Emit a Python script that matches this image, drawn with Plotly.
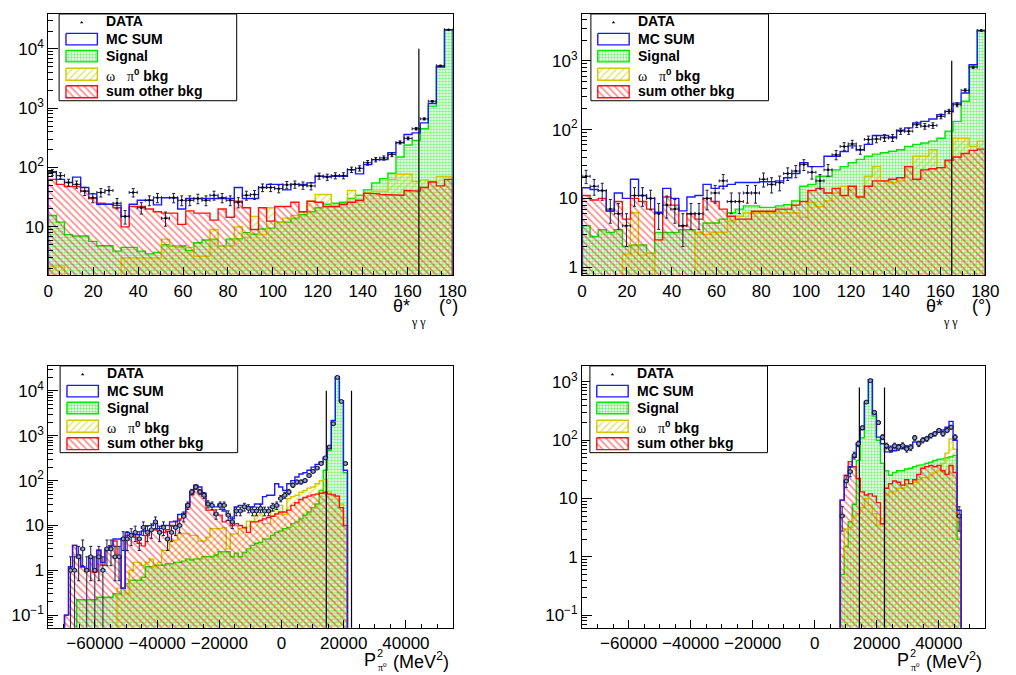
import math
import plotly.graph_objects as go

W, H = 1016, 675          # browser window
OFF = 8                   # default page body margin
FW, FH = W - OFF, H - OFF  # figure size

# ---------------- binning / cuts ----------------
THETA_MIN, THETA_MAX, THETA_NBINS = 0.0, 180.0, 50
P2_MIN, P2_MAX, P2_NBINS = -75000.0, 55000.0, 100
THETA_CUT = 165.0
P2_CUTS = [14400.0, 22500.0]
CUT_TOP = [10000.0, 1000.0, 10000.0, 800.0]

# ---------------- panel 1 : theta*_gg (before) ----------------
p1_data = [83, 73, 56, 52, 40, 31, 38, 41, 25, 15,
           38, 21, 28, 31, 14, 31, 28, 28, 30, 28,
           34, 31, 28, 26, 34, 35, 46, 46, 44, 51,
           52, 50, 49, 72, 69, 73, 73, 92, 97, 120,
           136, 145, 165, 265, 310, 450, 660, 1310, 5200, 21000]
p1_mc = [85, 63, 56, 69, 46, 36, 24, 24, 23, 15,
         24, 28, 28, 23.5, 31, 31, 20, 30, 30, 30,
         30, 30, 30, 46, 30, 30, 46, 52, 52, 42,
         52, 52, 55, 71, 71, 71, 71, 92, 78, 112,
         136, 136, 177, 260, 360, 383, 565, 1200, 5000, 21000]
p1_sig = [15.6, 12, 7.4, 7, 7, 5.7, 4.8, 4.8, 3.9, 4.5,
          4.5, 3.9, 3.5, 3.7, 5, 4.7, 4.8, 4, 5.4, 6,
          6.2, 4.8, 6.2, 6.3, 8, 7.5, 9.2, 9.5, 12, 12,
          14, 16, 18, 21, 24, 25, 26, 30, 34, 42,
          55, 65, 80, 150, 240, 285, 450, 1085, 4880, 20870]
p1_omg = [2.2, 2.2, 1, 1, 1, 1, 1, 1, 1, 3,
          3, 3, 3, 3, 6.2, 4.8, 4.5, 4.5, 3.2, 3.2,
          9, 4.8, 4.8, 10, 6.6, 15, 7.4, 21, 12, 14,
          15.5, 18, 27, 35, 35, 22, 23, 41, 27, 38,
          40, 40, 63, 77, 77, 58, 62, 58, 71, 71]
p1_oth = [63, 52, 48, 48, 40, 30, 25, 24, 21, 10,
          22, 22, 20, 18, 17, 17, 11, 18.6, 17, 17,
          13, 20, 14.5, 27, 21, 9, 21, 12.5, 22, 22,
          26, 18, 27, 26, 22, 22, 24, 26, 28, 37,
          36, 35, 35, 34, 41, 40, 46, 57, 49, 63]

# ---------------- panel 2 : theta*_gg (after) ----------------
p2_data = [21, 15, 13, 7, 6, 4, 11, 11, 10, 6,
           8, 7, 4, 6, 6, 10, 12, 18, 9, 9,
           12, 12, 19, 16, 17, 23, 25, 31, 24, 18,
           26, 43, 57, 62, 51, 72, 73, 76, 76, 95,
           95, 118, 112, 115, 156, 184, 230, 372, 810, 2760]
p2_mc = [14.3, 13.5, 13, 6.6, 12, 10, 19, 11, 10, 6.3,
         14, 10, 6.6, 10.5, 11, 16, 14, 15, 16, 17,
         17, 17, 17.5, 17.5, 18, 20, 23, 33, 29, 29,
         41, 41, 48, 58, 51, 61, 82, 82, 78, 98,
         106, 125, 132, 143, 165, 184, 243, 340, 875, 2760]
p2_sig = [4, 2.8, 3.5, 3.2, 3.5, 2.0, 2.1, 2.1, 1.6, 3.2,
          3.2, 3.2, 3.5, 3.5, 3.2, 4.4, 4.4, 5, 6.2, 7,
          7.8, 7.8, 7.4, 7.4, 7.8, 8.1, 9.2, 15, 16, 21,
          21, 26, 29, 33, 37, 41, 44, 46, 48.5, 51,
          57, 61, 64, 68, 75, 95, 132, 258, 830, 2700]
p2_omg = [0.5, 0.5, 0.5, 0.5, 0.5, 1.55, 6.2, 1.5, 1.6, 0.5,
          0.5, 0.5, 0.5, 0.5, 3.2, 3.0, 3.2, 3.2, 4.7, 5.5,
          6.2, 6.2, 6.2, 6.2, 6.2, 6.2, 6.2, 5.3, 8.7, 7.6,
          9.2, 12, 15, 13.5, 10.8, 21, 29, 18, 17, 18,
          29, 41, 41, 51, 28, 35, 75, 75, 57, 68]
p2_oth = [11, 9.5, 10, 6.5, 9, 5, 10, 9, 7, 2.5,
          10.5, 8, 4, 6, 5, 10, 9, 7, 5.5, 5,
          5, 6.5, 6.5, 6.5, 7, 7, 8, 9, 13, 14,
          12, 14, 11, 15, 10.5, 15, 18, 18, 19, 20,
          29, 19, 26, 27, 28, 36, 40, 45, 50, 52]

# ---------------- panel 3 : P^2_pi0 (before) ----------------
p3_data = [0] * 4 + [
    0, 1, 1, 2, 3, 1,
    2, 1, 2, 1, 3, 3, 2, 2, 5, 5,
    6, 7, 5, 9, 7, 8, 12, 7, 9, 5,
    7, 9, 10, 16, 28, 56, 72, 56, 47, 30,
    28, 18, 28, 28, 17, 12, 21, 21, 26, 24,
    21, 21, 24, 21, 21, 26, 28, 40, 47, 56,
    79, 93, 93, 100, 130, 160, 190, 240, 320, 560,
    1850, 20000, 5800, 240] + [0] * 26
p3_mc = [0] * 4 + [
    0.1, 1.2, 3.6, 2.2, 1.2, 0.95,
    1.9, 0.95, 2.8, 1.5, 2.8, 3.5, 5, 5, 0.4, 7,
    6.5, 6.2, 6.2, 7.5, 9.9, 9.9, 11, 8.5, 10, 10,
    12, 12.5, 17.5, 18.5, 30, 56, 79, 72, 52, 30,
    26, 26, 30, 21, 17.5, 14, 26, 28, 28, 26,
    26, 30, 30, 44, 47, 47, 85, 72, 60, 85,
    100, 120, 140, 150, 170, 200, 230, 260, 310, 520,
    2200, 20000, 6000, 170] + [0] * 26
p3_sig = [0] * 4 + [
    0, 0, 0, 0.22, 0.22, 0.22,
    0.22, 0.22, 0.25, 0.25, 0.25, 0.25, 0.3, 0.3, 0.4, 0.5,
    0.6, 0.6, 0.6, 0.7, 1.2, 1.2, 1.3, 1.3, 1.3, 1.4,
    1.4, 1.5, 1.5, 1.6, 1.8, 1.7, 1.8, 1.8, 2.0, 2.0,
    2.0, 2.2, 2.6, 2.6, 2.6, 2.0, 2.4, 2.0, 2.5, 3.0,
    3.6, 4.0, 4.2, 5.0, 5.0, 6.0, 7.0, 7.5, 8.5, 9,
    11, 12, 14, 17, 20, 25, 30, 60, 170, 470,
    2100, 19800, 5900, 150] + [0] * 26
p3_omg = [0] * 4 + [
    0, 0, 0, 0, 0, 0,
    0, 0, 0, 0, 0, 0, 0, 0.4, 0.4, 0.3,
    1.0, 1.5, 1.5, 1.3, 1.5, 1.8, 1.2, 1.5, 2.8, 2.8,
    4.7, 4.7, 6.6, 6.6, 6.6, 6.0, 6.0, 4.5, 4.5, 5.5,
    8.5, 8.5, 8.5, 9, 3, 6.5, 6.5, 8.5, 8.5, 12.5,
    12.5, 17, 17, 11, 11, 21, 25, 28, 17.5, 40,
    44, 47, 55, 60, 68, 72, 85, 100, 105, 56,
    50, 45, 30, 15] + [0] * 26
p3_oth = [0] * 4 + [
    0.1, 1.2, 3.6, 1.9, 1.2, 0.95,
    1.9, 0.9, 2.8, 1.3, 2.8, 3.5, 4.5, 2, 0.4, 6,
    6, 5.5, 4, 3.5, 6, 8, 8, 7.5, 7, 8,
    10, 10, 14, 16, 25, 48, 70, 60, 45, 22,
    22, 17, 17, 12, 13, 10, 11, 10, 9, 7,
    12, 12, 13, 14, 15, 16, 18, 20, 20, 22,
    28, 32, 38, 42, 45, 48, 50, 52, 55, 50,
    48, 45, 25, 10] + [0] * 26

# ---------------- panel 4 : P^2_pi0 (after) ----------------
p4_data = [0] * 64 + [5, 20, 29, 55, 87, 163, 450, 1050, 300, 200,
                      113, 80, 71, 80, 76, 81, 71, 75, 110, 87,
                      100, 106, 120, 129, 147, 129, 147, 167, 113, 5] + [0] * 6
p4_mc = [0] * 64 + [9.4, 20, 35, 51, 87, 155, 450, 1100, 280, 113,
                    87, 63, 63, 66, 71, 71, 80, 75, 93, 93,
                    100, 110, 120, 130, 140, 150, 167, 210, 100, 6.3] + [0] * 6
p4_sig = [0] * 64 + [0.5, 1.5, 4, 8, 45, 110, 430, 1080, 260, 100,
                     40, 30, 25, 28, 30, 30, 32, 33, 35, 37,
                     38, 40, 42, 45, 47, 48, 50, 52, 55, 2] + [0] * 6
p4_omg = [0] * 64 + [1, 3, 3.2, 5, 5.5, 7, 10, 7.7, 5.5, 3.5,
                     4.5, 11.5, 13, 13, 15, 15, 18, 18, 19, 21,
                     23, 23, 25, 28, 30, 40, 60, 105, 70, 4] + [0] * 6
p4_oth = [0] * 64 + [9.4, 25, 43, 35, 22, 13, 11.5, 12, 11, 8.5,
                     3.7, 15, 18, 20, 19, 17, 21, 18, 21, 26,
                     33, 35, 37, 35, 37, 30, 26, 37, 28, 5] + [0] * 6

# ---------------- styling ----------------
FONT = "Liberation Sans"
BLUE = "#1a1aff"
GREEN = "#00e600"
YEL = "#d2c800"
RED = "#ff1010"
ERR = "#1c1c4c"
FLOOR = 1e-4

fig = go.Figure()


def PX(x):
    return (x - OFF) / FW


def PY(y):
    return 1 - (y - OFF) / FH


def edges(lo, hi, n):
    w = (hi - lo) / n
    return [lo + i * w for i in range(n + 1)]


def step(ed, vals):
    xs, ys = [ed[0]], [FLOOR]
    for i, v in enumerate(vals):
        y = v if v > 0 else FLOOR
        xs += [ed[i], ed[i + 1]]
        ys += [y, y]
    xs.append(ed[-1])
    ys.append(FLOOR)
    return xs, ys


PAT = {
    "sig": dict(shape=".", fgcolor="#00dd00", bgcolor="rgba(0,0,0,0)", size=3, solidity=0.5),
    "omg": dict(shape="/", fgcolor=YEL, bgcolor="rgba(0,0,0,0)", size=5, solidity=0.32),
    "oth": dict(shape="\\", fgcolor=RED, bgcolor="rgba(0,0,0,0)", size=5, solidity=0.32),
}
LINEC = {"sig": GREEN, "omg": YEL, "oth": RED}

panels = [
    dict(ax="", ed=edges(THETA_MIN, THETA_MAX, THETA_NBINS), data=p1_data, mc=p1_mc,
         sig=p1_sig, omg=p1_omg, oth=p1_oth, cuts=[THETA_CUT], top=CUT_TOP[0], mk=2.5),
    dict(ax="2", ed=edges(THETA_MIN, THETA_MAX, THETA_NBINS), data=p2_data, mc=p2_mc,
         sig=p2_sig, omg=p2_omg, oth=p2_oth, cuts=[THETA_CUT], top=CUT_TOP[1], mk=2.5),
    dict(ax="3", ed=edges(P2_MIN, P2_MAX, P2_NBINS), data=p3_data, mc=p3_mc,
         sig=p3_sig, omg=p3_omg, oth=p3_oth, cuts=P2_CUTS, top=CUT_TOP[2], mk=4),
    dict(ax="4", ed=edges(P2_MIN, P2_MAX, P2_NBINS), data=p4_data, mc=p4_mc,
         sig=p4_sig, omg=p4_omg, oth=p4_oth, cuts=P2_CUTS, top=CUT_TOP[3], mk=4),
]

for p in panels:
    xa, ya = "x" + p["ax"], "y" + p["ax"]
    ed = p["ed"]
    for key in ["sig", "omg", "oth"]:
        xs, ys = step(ed, p[key])
        fig.add_trace(go.Scatter(x=xs, y=ys, mode="lines", fill="toself",
                                 fillcolor="rgba(0,0,0,0)", fillpattern=PAT[key],
                                 line=dict(color=LINEC[key], width=1.4),
                                 xaxis=xa, yaxis=ya, showlegend=False, hoverinfo="skip"))
    xs, ys = step(ed, p["mc"])
    fig.add_trace(go.Scatter(x=xs, y=ys, mode="lines", line=dict(color=BLUE, width=1.4),
                             xaxis=xa, yaxis=ya, showlegend=False, hoverinfo="skip"))
    for c in p["cuts"]:
        fig.add_trace(go.Scatter(x=[c, c], y=[FLOOR, p["top"]], mode="lines",
                                 line=dict(color="black", width=1.2),
                                 xaxis=xa, yaxis=ya, showlegend=False, hoverinfo="skip"))
    cx, cy, ex, ey = [], [], [], []
    for i, v in enumerate(p["data"]):
        if v > 0:
            cx.append(0.5 * (ed[i] + ed[i + 1]))
            cy.append(v)
            ex.append(0.5 * (ed[i + 1] - ed[i]))
            ey.append(math.sqrt(v))
    if p["mk"] > 3:
        marker = dict(symbol="circle", size=p["mk"], color="#8c9ccc",
                      line=dict(color="#101030", width=1))
    else:
        marker = dict(symbol="circle", size=p["mk"], color="black")
    fig.add_trace(go.Scatter(x=cx, y=cy, mode="markers", marker=marker,
                             error_x=dict(type="data", array=ex, color=ERR, thickness=1, width=1.5),
                             error_y=dict(type="data", array=ey, color=ERR, thickness=1, width=1.5),
                             xaxis=xa, yaxis=ya, showlegend=False, hoverinfo="skip"))

# ---------------- legends (drawn on a pixel overlay axis) ----------------
LEG_BOX = [(55, 14), (597, 14), (56, 367), (596, 367)]
annotations = []


def legend(bx, by):
    fig.add_trace(go.Scatter(x=[bx, bx + 181, bx + 181, bx, bx], y=[by, by, by + 87, by + 87, by],
                             mode="lines", fill="toself", fillcolor="white",
                             line=dict(color="black", width=1), xaxis="x5", yaxis="y5",
                             showlegend=False, hoverinfo="skip"))
    fig.add_trace(go.Scatter(x=[bx + 23], y=[by + 8.5], mode="markers",
                             marker=dict(symbol="triangle-up", size=3, color="black"),
                             xaxis="x5", yaxis="y5", showlegend=False, hoverinfo="skip"))
    rows = [(19.5, 31, None, BLUE), (36.5, 48, "sig", GREEN),
            (54.5, 66.5, "omg", YEL), (72, 84, "oth", RED)]
    for y0, y1, key, col in rows:
        kw = dict(fill="toself", fillcolor="white")
        if key:
            kw = dict(fill="toself", fillcolor="rgba(0,0,0,0)", fillpattern=PAT[key])
        fig.add_trace(go.Scatter(x=[bx + 7, bx + 39, bx + 39, bx + 7, bx + 7],
                                 y=[by + y0, by + y0, by + y1, by + y1, by + y0],
                                 mode="lines", line=dict(color=col, width=1.4), **kw,
                                 xaxis="x5", yaxis="y5", showlegend=False, hoverinfo="skip"))
    serif = "<span style='font-family:Liberation Serif;font-weight:normal'>"
    texts = ["DATA", "MC SUM", "Signal",
             serif + "ω</span>\u00a0\u00a0\u00a0" + serif + "π</span><sup>0</sup> bkg",
             "sum other bkg"]
    ty = [7.5, 25, 42, 61, 77.5]
    for t, yy in zip(texts, ty):
        annotations.append(dict(x=PX(bx + 46), y=PY(by + yy), xref="paper", yref="paper",
                                text=t, showarrow=False, xanchor="left", yanchor="middle",
                                font=dict(family=FONT, size=14, color="black", weight="bold")))


for bx, by in LEG_BOX:
    legend(bx, by)


# ---------------- axis titles ----------------
def ann(x, y, text, size, family=FONT):
    annotations.append(dict(x=PX(x), y=PY(y), xref="paper", yref="paper", text=text,
                            showarrow=False, xanchor="center", yanchor="middle",
                            font=dict(family=family, size=size, color="black")))


for dx in (0, 543):
    ann(404 + dx, 307, "θ*", 18)
    ann(421 + dx, 323, "γ γ", 12, "Liberation Serif")
    ann(452 + dx, 307, "(°)", 18)
    ann(372 + dx, 662, "P", 18)
    ann(382 + dx, 655, "2", 11)
    ann(385 + dx, 669, "π<sup>0</sup>", 10, "Liberation Serif")
    ann(424 + dx, 662, "(MeV<sup>2</sup>)", 18)


# ---------------- axes ----------------
def xdom(a, b):
    return [PX(a), PX(b)]


def ydom(top, bot):
    return [PY(bot), PY(top)]


TF = dict(family=FONT, size=17, color="black")
base = dict(showline=True, mirror=True, linecolor="black", linewidth=1, showgrid=False,
            zeroline=False, ticks="inside", tickcolor="black", tickfont=TF, fixedrange=True)

th_ticks = [0, 20, 40, 60, 80, 100, 120, 140, 160, 180]
th_minor = [v for v in range(0, 181, 5) if v % 20]
p_ticks = [-60000, -40000, -20000, 0, 20000, 40000]
p_text = [("−" if v < 0 else "") + str(abs(v)) for v in p_ticks]
p_minor = [v for v in range(-75000, 55001, 5000) if v % 20000]


def decade_text(e):
    if e == 0:
        return "1"
    if e == 1:
        return "10"
    return "10<sup>" + ("−" if e < 0 else "") + str(abs(e)) + "</sup>"


def yaxis(dom, rng, emin, emax, anchor):
    vals = [10.0 ** e for e in range(emin, emax + 1)]
    minor = [m * 10.0 ** e for e in range(emin - 1, emax + 1) for m in range(2, 10)]
    return dict(base, type="log", domain=dom, range=rng, anchor=anchor, ticklen=10,
                tickvals=vals, ticktext=[decade_text(e) for e in range(emin, emax + 1)],
                minor=dict(tickmode="array", tickvals=minor, ticks="inside", ticklen=5,
                           tickcolor="black"))


def xaxis(dom, rng, tv, tt, mv, anchor):
    return dict(base, domain=dom, range=rng, anchor=anchor, ticklen=8, tickvals=tv, ticktext=tt,
                tickangle=0,
                minor=dict(tickmode="array", tickvals=mv, ticks="inside", ticklen=4,
                           tickcolor="black"))


fig.update_layout(
    width=FW, height=FH, autosize=False,
    margin=dict(l=0, r=0, t=0, b=0, pad=0),
    paper_bgcolor="white", plot_bgcolor="rgba(0,0,0,0)",
    showlegend=False,
    xaxis=xaxis(xdom(44, 456), [0, 180], th_ticks, [str(v) for v in th_ticks], th_minor, "y"),
    yaxis=yaxis(ydom(14, 276), [0.185, 4.588], 1, 4, "x"),
    xaxis2=xaxis(xdom(588, 999), [0, 180], th_ticks, [str(v) for v in th_ticks], th_minor, "y2"),
    yaxis2=yaxis(ydom(14, 276), [-0.116, 3.681], 0, 3, "x2"),
    xaxis3=xaxis(xdom(44, 456), [P2_MIN, P2_MAX], p_ticks, p_text, p_minor, "y3"),
    yaxis3=yaxis(ydom(367, 629.5), [-1.278, 4.556], -1, 4, "x3"),
    xaxis4=xaxis(xdom(588, 999), [P2_MIN, P2_MAX], p_ticks, p_text, p_minor, "y4"),
    yaxis4=yaxis(ydom(367, 629.5), [-1.214, 3.274], -1, 3, "x4"),
    xaxis5=dict(domain=[0, 1], range=[OFF, W], visible=False, anchor="y5", fixedrange=True),
    yaxis5=dict(domain=[0, 1], range=[H, OFF], visible=False, anchor="x5", fixedrange=True),
    annotations=annotations,
)

fig.write_html("out.html", config={"displayModeBar": False, "staticPlot": True})
